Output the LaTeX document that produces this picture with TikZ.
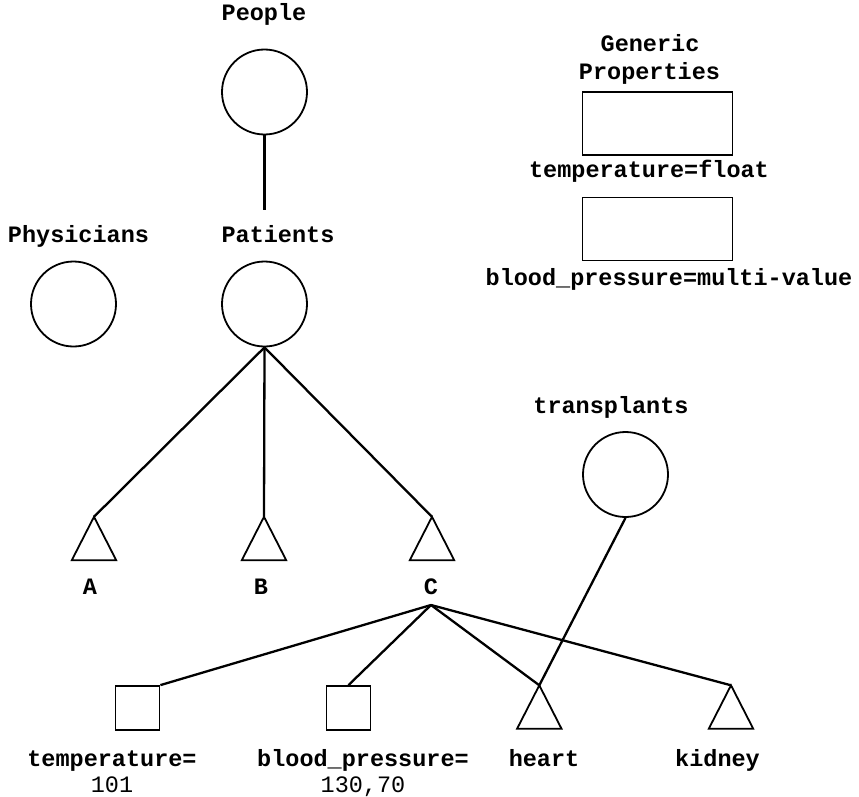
\documentclass[tikz,border=0pt]{standalone}
\usepackage{fontspec}
\newfontfamily\codefont{Liberation Mono}
\begin{document}
\begin{tikzpicture}[x=1pt,y=-1pt,
  lbl/.style={font=\codefont\bfseries\fontsize{23.5}{26}\selectfont, anchor=base, inner sep=0},
  val/.style={font=\codefont\fontsize{23.5}{26}\selectfont, anchor=base, inner sep=0},
  cls/.style={circle, draw, line width=1.8pt, minimum size=85pt, inner sep=0},
  prop/.style={rectangle, draw, line width=1.8pt, minimum width=150pt, minimum height=63pt, inner sep=0},
  attr/.style={rectangle, draw, line width=1.8pt, minimum size=44pt, inner sep=0},
  tri/.style={rectangle, minimum width=44pt, minimum height=43pt, inner sep=0},
  trishape/.style={draw, line width=1.8pt, line join=miter},
  link/.style={draw, line width=2.3pt}
]
\useasboundingbox (0,0) rectangle (859,797);

% class circles
\node[lbl] (lPeople) at (264,21) {People};
\node[cls] (People) at (264.5,92) {};
\node[lbl] (lPhys) at (78.5,242) {Physicians};
\node[cls] (Phys) at (73.5,304) {};
\node[lbl] (lPat) at (278,242) {Patients};
\node[cls] (Pat) at (264.5,304) {};
\node[lbl] (lTrans) at (611,413) {transplants};
\node[cls] (Trans) at (625.5,474.5) {};
\coordinate (patTop) at (264.5,210);

% generic property boxes
\node[lbl] (lGen) at (650,52) {Generic};
\node[lbl] (lProps) at (649.5,80) {Properties};
\node[prop] (pTemp) at (657.5,123.5) {};
\node[lbl] (lpTemp) at (649,177) {temperature=float};
\node[prop] (pBP) at (657.5,229) {};
\node[lbl] (lpBP) at (669,285) {blood\_pressure=multi-value};

% subclasses (triangle frames)
\node[tri] (A) at (94,538.5) {};
\node[tri] (B) at (264,538.5) {};
\node[tri] (C) at (432,538.5) {};
\node[lbl] (lA) at (90,594) {A};
\node[lbl] (lB) at (261,594) {B};
\node[lbl] (lC) at (431,594) {C};
\coordinate (cBot) at (431,605);

% instance level
\node[attr] (aTemp) at (137.5,708) {};
\node[attr] (aBP) at (348.5,708) {};
\node[tri] (heart) at (539.3,707) {};
\node[tri] (kidney) at (731,707) {};
\node[lbl] (laTemp) at (112,766) {temperature=};
\node[val] (vTemp) at (112,792) {101};
\node[lbl] (laBP) at (363,766) {blood\_pressure=};
\node[val] (vBP) at (363,792) {130,70};
\node[lbl] (lheart) at (544,766) {heart};
\node[lbl] (lkidney) at (717.5,766) {kidney};

% triangles drawn inside their frames
\foreach \t in {A,B,C,heart,kidney}
  \path[trishape] (\t.north) -- (\t.south east) -- (\t.south west) -- cycle;

% connectors
\path[link] (People.south) -- (patTop);
\path[link] (Pat.south) -- (A.north);
\path[link] (Pat.south) -- (B.north);
\path[link] (Pat.south) -- (C.north);
\path[link] (cBot) -- (aTemp.north east);
\path[link] (cBot) -- (aBP.north);
\path[link] (cBot) -- (heart.north);
\path[link] (cBot) -- (kidney.north);
\path[link] (Trans.south) -- (heart.north);
\end{tikzpicture}
\end{document}
